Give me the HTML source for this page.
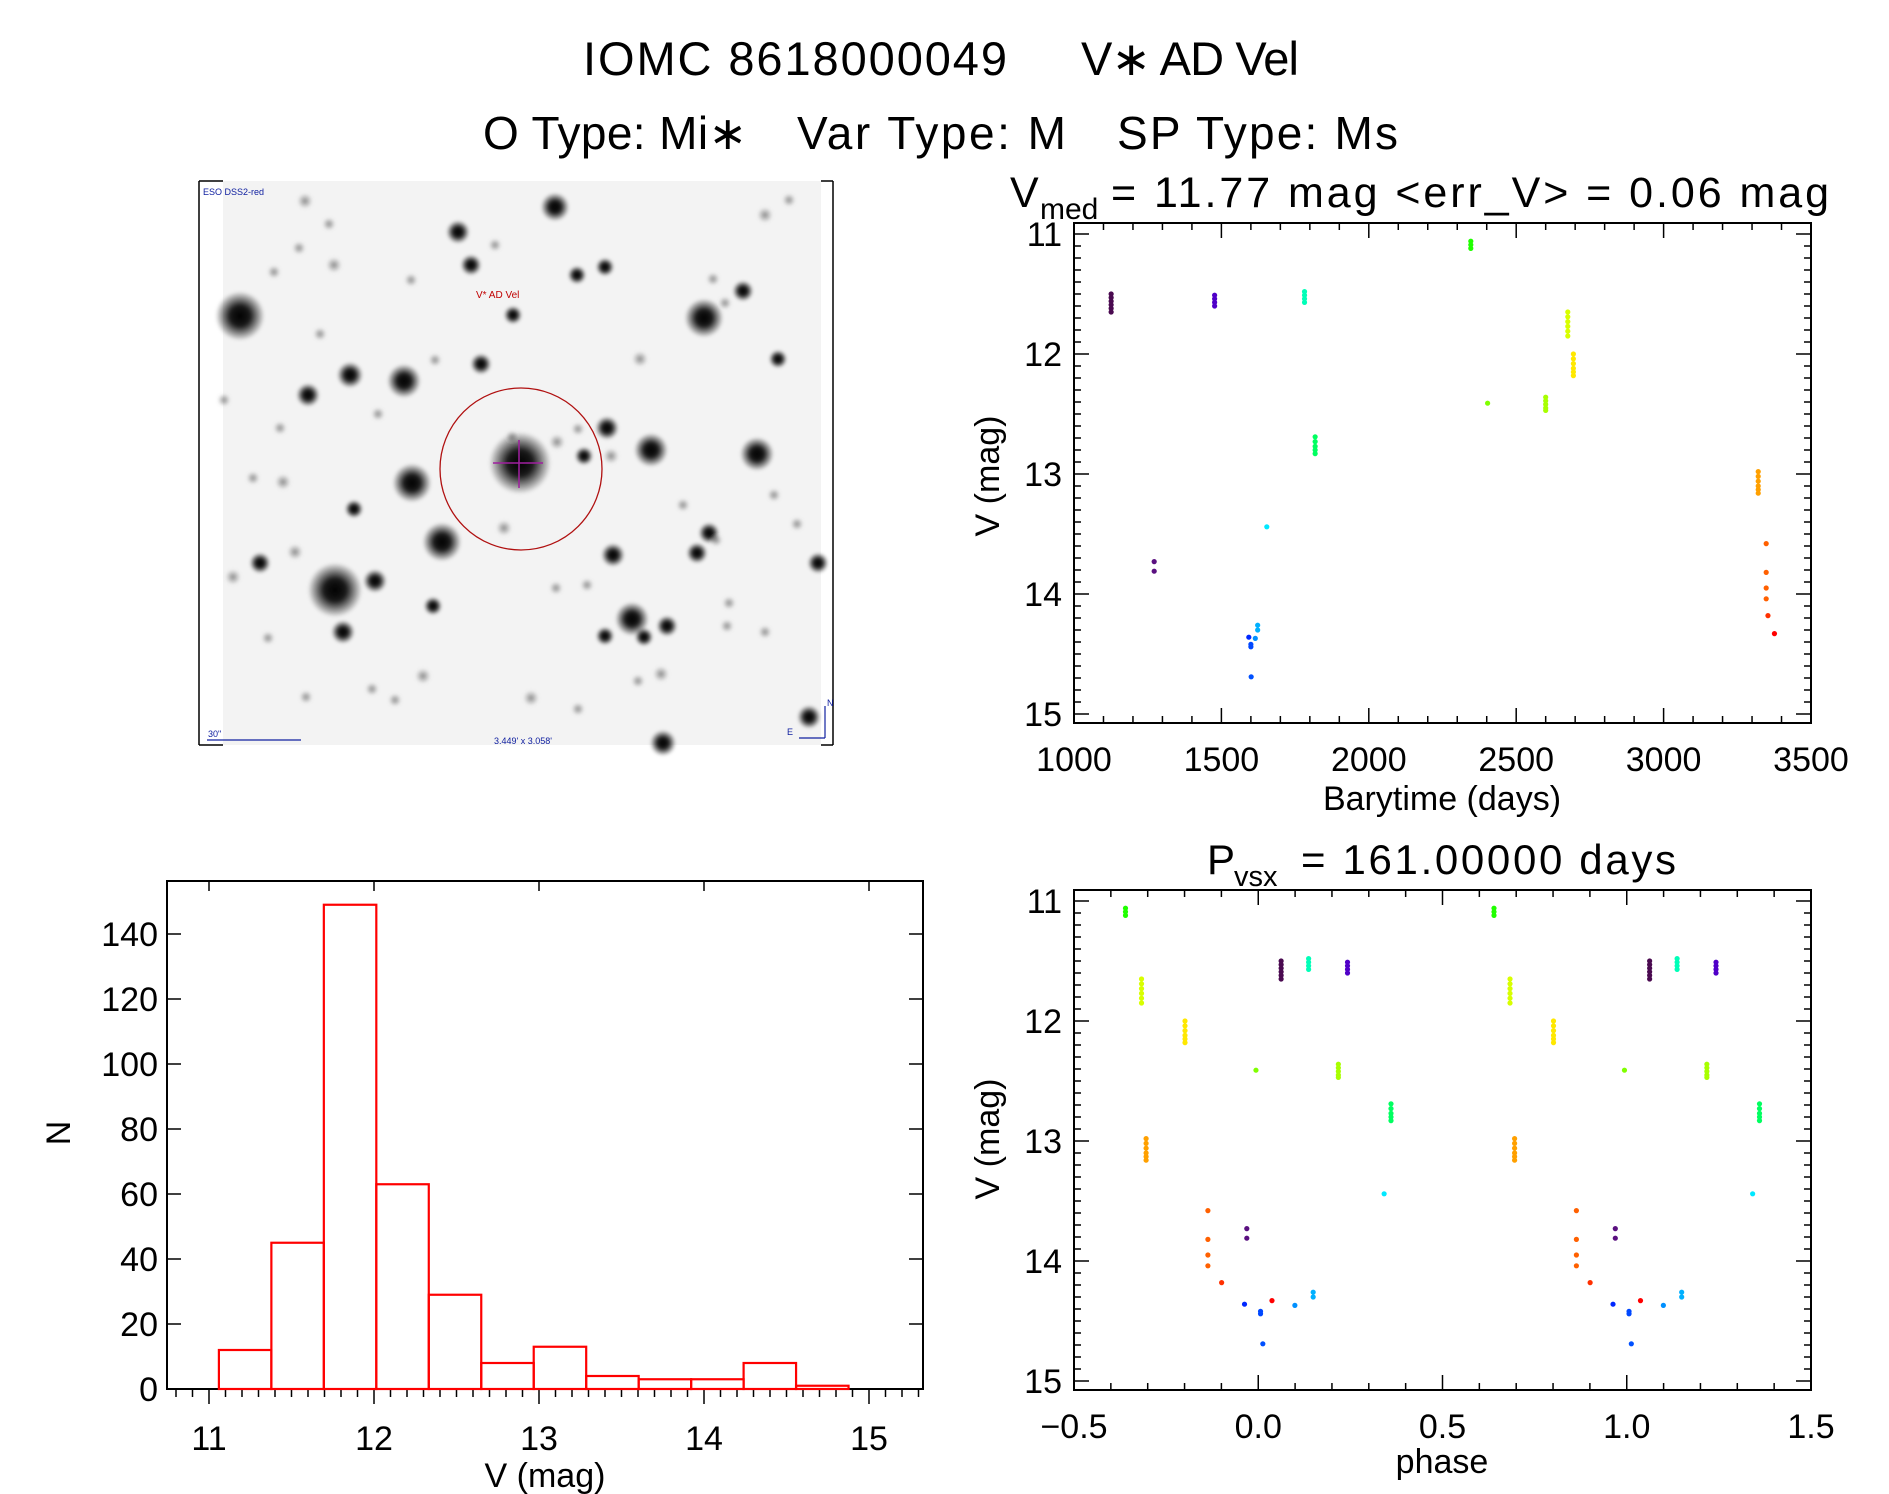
<!DOCTYPE html>
<html><head><meta charset="utf-8">
<style>
html,body{margin:0;padding:0;background:#fff;}
svg{display:block;font-family:"Liberation Sans",sans-serif;}
</style></head>
<body>
<svg id="root" width="1889" height="1494" viewBox="0 0 1889 1494" xmlns="http://www.w3.org/2000/svg">
<defs>
<radialGradient id="starG"><stop offset="0" stop-color="#000" stop-opacity="1"/><stop offset="0.4" stop-color="#000" stop-opacity="0.9"/><stop offset="1" stop-color="#000" stop-opacity="0"/></radialGradient>
<radialGradient id="faintG"><stop offset="0" stop-color="#555" stop-opacity="0.7"/><stop offset="1" stop-color="#777" stop-opacity="0"/></radialGradient>
<filter id="soft"><feGaussianBlur stdDeviation="1.5"/></filter>
</defs>
<text x="583" y="75" font-size="47" textLength="424">IOMC 8618000049</text>
<text x="1081" y="75" font-size="47" textLength="218">V∗ AD Vel</text>
<text x="483" y="149" font-size="46" textLength="264">O Type: Mi∗</text>
<text x="797" y="149" font-size="46" textLength="269">Var Type: M</text>
<text x="1117" y="149" font-size="46" textLength="281">SP Type: Ms</text>

<g id="sky">
<rect x="199" y="181" width="634" height="564" fill="#fff" stroke="none"/>
<rect x="223" y="181" width="598" height="564" fill="#f3f3f3"/>
<g id="stars" filter="url(#soft)"></g>
<line x1="199" y1="181" x2="199" y2="745" stroke="#000" stroke-width="1.5"/>
<line x1="199" y1="181" x2="223" y2="181" stroke="#000" stroke-width="1.5"/>
<line x1="199" y1="745" x2="223" y2="745" stroke="#000" stroke-width="1.5"/>
<line x1="833" y1="181" x2="833" y2="745" stroke="#000" stroke-width="1.5"/>
<line x1="821" y1="181" x2="833" y2="181" stroke="#000" stroke-width="1.5"/>
<line x1="821" y1="745" x2="833" y2="745" stroke="#000" stroke-width="1.5"/>
<circle cx="521" cy="469" r="81" fill="none" stroke="#b01010" stroke-width="1.3"/>
<line x1="493" y1="463" x2="543" y2="463" stroke="#a020a0" stroke-width="1.5"/>
<line x1="519" y1="440" x2="519" y2="488" stroke="#a020a0" stroke-width="1.5"/>
<text x="476" y="298" font-size="10" fill="#c00000">V* AD Vel</text>
<text x="203" y="195" font-size="9" fill="#1020a0">ESO DSS2-red</text>
<text x="208" y="737" font-size="9" fill="#1020a0">30"</text>
<line x1="207" y1="740" x2="301" y2="740" stroke="#1020a0" stroke-width="1.2"/>
<text x="523" y="744" font-size="9" fill="#1020a0" text-anchor="middle">3.449' x 3.058'</text>
<g stroke="#1020a0" stroke-width="1.2" fill="none">
<line x1="825" y1="738" x2="825" y2="706"/><line x1="825" y1="738" x2="799" y2="738"/>
</g>
<text x="827" y="706" font-size="9" fill="#1020a0">N</text>
<text x="787" y="735" font-size="9" fill="#1020a0">E</text>
</g>

<g>
<text x="1010" y="207" font-size="43">V</text>
<text x="1040" y="219" font-size="30">med</text>
<text x="1111" y="207" font-size="43" textLength="718">= 11.77 mag &lt;err_V&gt; = 0.06 mag</text>
</g>
<g>
<text x="1207" y="874" font-size="42">P</text>
<text x="1234" y="886" font-size="29">vsx</text>
<text x="1301" y="874" font-size="42" textLength="375">= 161.00000 days</text>
</g>

<g id="lc"></g>
<g id="ph"></g>
<g id="hist"></g>
</svg>
<script>
// ---- light curve data ----
const lcTimes = [1126,1272,1477,1593,1600,1601,1615,1623,1654,1782,1818,2346,2403,2600,2675,2694,3321,3348,3354,3376];
const lcMags = [
 [11.50,11.53,11.56,11.59,11.62,11.65],
 [13.73,13.81],
 [11.51,11.54,11.57,11.60],
 [14.36],
 [14.42,14.44],
 [14.69],
 [14.37],
 [14.26,14.30],
 [13.44],
 [11.48,11.51,11.54,11.57],
 [12.69,12.73,12.77,12.80,12.83],
 [11.06,11.09,11.12],
 [12.41],
 [12.36,12.39,12.42,12.45,12.47],
 [11.65,11.69,11.73,11.77,11.81,11.85],
 [12.00,12.04,12.08,12.12,12.15,12.18],
 [12.98,13.02,13.06,13.10,13.13,13.16],
 [13.58,13.82,13.95,14.04],
 [14.18],
 [14.33]
];
const lcColors = ['#4a0a50','#5a1080','#5000c8','#0028ff','#0048ff','#0050ff','#0090ff','#00b0ff','#00e8ff','#00ffb8','#00ff60','#20ff00','#80ff00','#a8ff00','#d8ff00','#ffe800','#ffa000','#ff6000','#ff3000','#ff0000'];
const period = 161.0;
const epoch = 1116;
const lcXTicks = [1000,1500,2000,2500,3000,3500];
const magTicks = [11,12,13,14,15];
const phaseTicks = ['-0.5','0.0','0.5','1.0','1.5'];
// ---- histogram data ----
const histEdgeStart = 11.06;
const histBinWidth = 0.318;
const histCounts = [12,45,149,63,29,8,13,4,3,3,8,1];
const histXTicks = [11,12,13,14,15];
const histYTicks = [0,20,40,60,80,100,120,140];

const NS='http://www.w3.org/2000/svg';
function mk(tag,attrs,parent){const e=document.createElementNS(NS,tag);for(const k in attrs)e.setAttribute(k,attrs[k]);parent.appendChild(e);return e;}
function txt(s,attrs,parent){const e=mk('text',attrs,parent);e.textContent=s;return e;}

const lcX=t=>1074+(t-1000)*(737/2500);
const magY=m=>234+(m-11)*120;
const phY=m=>901+(m-11)*120;
const phX=p=>1074+(p+0.5)*(737/2);
const hX=v=>209+(v-11)*165;
const hY=c=>1389-c*3.25;

function magAxes(g,x0,x1,y0,y1,yf){
  mk('rect',{x:x0,y:y0,width:x1-x0,height:y1-y0,fill:'none',stroke:'#000','stroke-width':2},g);
  for(let m=10.9;m<=15.08;m+=0.1){
    const v=Math.round(m*10)/10; const y=yf(v); if(y<y0||y>y1)continue;
    const maj=Math.abs(v-Math.round(v))<1e-6; const L=maj?15:7;
    mk('line',{x1:x0,y1:y,x2:x0+L,y2:y,stroke:'#000','stroke-width':1.5},g);
    mk('line',{x1:x1,y1:y,x2:x1-L,y2:y,stroke:'#000','stroke-width':1.5},g);
  }
  magTicks.forEach(m=>{
    const t=txt(String(m),{x:1062,y:yf(m)+12,'font-size':34,'text-anchor':'end'},g);
    
    
  });
}

const lc=document.getElementById('lc');
magAxes(lc,1074,1811,223,723,magY);
for(let t=1000;t<=3500;t+=100){const x=lcX(t);const L=(t%500===0)?15:7;
  mk('line',{x1:x,y1:723,x2:x,y2:723-L,stroke:'#000','stroke-width':1.5},lc);
  mk('line',{x1:x,y1:223,x2:x,y2:223+L,stroke:'#000','stroke-width':1.5},lc);}
lcXTicks.forEach(t=>{const e=txt(String(t),{x:lcX(t),y:771,'font-size':34,'text-anchor':'middle'},lc);
  
  });
let e=txt('Barytime (days)',{x:1442,y:810,'font-size':34,'text-anchor':'middle'},lc);


e=txt('V (mag)',{x:0,y:0,'font-size':34,'text-anchor':'middle',transform:'translate(999,476) rotate(-90)'},lc);


lcTimes.forEach((t,i)=>{lcMags[i].forEach(m=>{
  const c=mk('circle',{cx:lcX(t),cy:magY(m),r:2.6,fill:lcColors[i]},lc);
  
  
});});

const ph=document.getElementById('ph');
magAxes(ph,1074,1811,890,1390,phY);
for(let k=0;k<=20;k++){const p=-0.5+k*0.1;const x=phX(p);const L=(k%5===0)?15:7;
  mk('line',{x1:x,y1:1390,x2:x,y2:1390-L,stroke:'#000','stroke-width':1.5},ph);
  mk('line',{x1:x,y1:890,x2:x,y2:890+L,stroke:'#000','stroke-width':1.5},ph);}
phaseTicks.forEach(s=>{const e2=txt(s.replace('-','\u2212'),{x:phX(parseFloat(s)),y:1438,'font-size':34,'text-anchor':'middle'},ph);
  
  });
e=txt('phase',{x:1442,y:1473,'font-size':34,'text-anchor':'middle'},ph);


e=txt('V (mag)',{x:0,y:0,'font-size':34,'text-anchor':'middle',transform:'translate(999,1139) rotate(-90)'},ph);


lcTimes.forEach((t,i)=>{
  let p=((t-epoch)/period)%1; if(p<0)p+=1;
  const ps=p<0.5?[p,p+1]:[p-1,p];
  ps.forEach(pp=>lcMags[i].forEach(m=>{
    const c=mk('circle',{cx:phX(pp),cy:phY(m),r:2.6,fill:lcColors[i]},ph);
    
    
  }));
});

const hg=document.getElementById('hist');
mk('rect',{x:167,y:881,width:756,height:508,fill:'none',stroke:'#000','stroke-width':2},hg);
for(let k=0;k<=45;k++){const v=10.8+k*0.1;const x=hX(v);if(x<167||x>923)continue;
  const maj=Math.abs(v-Math.round(v))<1e-6;
  mk('line',{x1:x,y1:1389,x2:x,y2:1389+(maj?15:8),stroke:'#000','stroke-width':1.5},hg);
  if(maj)mk('line',{x1:x,y1:881,x2:x,y2:891,stroke:'#000','stroke-width':1.5},hg);}
histXTicks.forEach(v=>{const e2=txt(String(v),{x:hX(v),y:1450,'font-size':34,'text-anchor':'middle'},hg);
  
  });
histYTicks.forEach(c=>{const y=hY(c);
  mk('line',{x1:167,y1:y,x2:181,y2:y,stroke:'#000','stroke-width':1.5},hg);
  mk('line',{x1:923,y1:y,x2:909,y2:y,stroke:'#000','stroke-width':1.5},hg);
  const e2=txt(String(c),{x:158,y:y+12,'font-size':34,'text-anchor':'end'},hg);
  
  });
e=txt('V (mag)',{x:545,y:1487,'font-size':34,'text-anchor':'middle'},hg);


e=txt('N',{x:0,y:0,'font-size':34,'text-anchor':'middle',transform:'translate(70,1133) rotate(-90)'},hg);


histCounts.forEach((c,i)=>{const a=hX(histEdgeStart+i*histBinWidth),b=hX(histEdgeStart+(i+1)*histBinWidth);
  const r=mk('rect',{x:a,y:hY(c),width:b-a,height:hY(0)-hY(c),fill:'none',stroke:'#ff0000','stroke-width':2.2},hg);
  
  });

// sky stars (image decoration)
const stars=[[240,316,19],[704,318,15],[555,207,11],[520,463,24],[412,483,15],[442,542,15],[335,590,21],[651,450,13],[757,454,13],[632,619,13],[404,381,13],[350,375,10],[308,395,9],[458,232,9],[471,265,8],[607,428,9],[343,632,9],[375,581,9],[613,555,9],[709,533,8],[697,553,8],[667,626,8],[644,637,7],[605,636,7],[809,717,9],[663,743,10],[260,563,8],[481,364,8],[513,315,7],[577,275,7],[605,267,7],[743,291,8],[778,359,7],[640,359,6],[584,456,7],[611,456,6],[818,563,8],[354,509,7],[433,606,7],[423,676,6],[661,674,6],[531,698,6],[233,577,6],[283,482,6],[504,528,6],[295,552,6],[557,442,6],[305,201,6],[329,224,5],[299,248,5],[334,265,6],[495,245,5],[789,200,5],[765,215,6],[713,279,5],[725,303,5],[320,334,5],[378,414,5],[512,437,5],[578,429,5],[683,505,5],[774,495,5],[716,540,5],[797,524,5],[587,585,5],[556,588,5],[729,603,5],[765,632,5],[727,626,5],[268,638,5],[306,697,5],[372,689,5],[395,700,5],[578,709,5],[638,681,5],[274,272,5],[224,400,5],[253,478,5],[411,280,5],[435,360,5],[280,428,5]];
const sg=document.getElementById('stars');
stars.forEach(s=>{mk('circle',{cx:s[0],cy:s[1],r:s[2]*1.3,fill:s[2]>=7?'url(#starG)':'url(#faintG)'},sg);});
</script>
</body></html>
